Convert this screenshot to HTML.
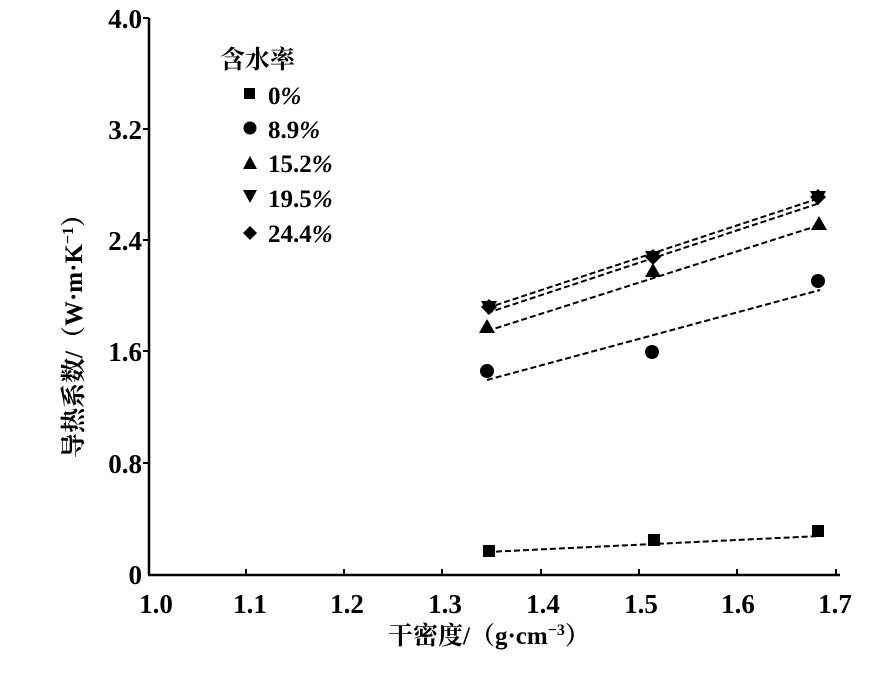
<!DOCTYPE html>
<html><head><meta charset="utf-8"><style>body{margin:0;background:#fff}</style></head>
<body>
<svg width="882" height="668" xmlns="http://www.w3.org/2000/svg" style="font-family:'Liberation Serif','Noto Serif CJK SC',serif">
<g stroke="#000" stroke-width="2.5" fill="none">
<line x1="149" y1="18" x2="149" y2="575"/>
<line x1="148" y1="575" x2="840" y2="575"/>
</g>
<g stroke="#000" stroke-width="2">
<line x1="143" y1="18" x2="149" y2="18"/>
<line x1="143" y1="129" x2="149" y2="129"/>
<line x1="143" y1="240" x2="149" y2="240"/>
<line x1="143" y1="351" x2="149" y2="351"/>
<line x1="143" y1="463" x2="149" y2="463"/>
<line x1="246" y1="569" x2="246" y2="575"/>
<line x1="344" y1="569" x2="344" y2="575"/>
<line x1="442" y1="569" x2="442" y2="575"/>
<line x1="541" y1="569" x2="541" y2="575"/>
<line x1="639" y1="569" x2="639" y2="575"/>
<line x1="737" y1="569" x2="737" y2="575"/>
<line x1="836" y1="569" x2="836" y2="575"/>
</g>
<g font-size="27" font-weight="bold" text-anchor="end">
<text x="142" y="28">4.0</text>
<text x="142" y="139">3.2</text>
<text x="142" y="250">2.4</text>
<text x="142" y="361">1.6</text>
<text x="142" y="473">0.8</text>
<text x="142" y="584">0</text>
</g>
<g font-size="27" font-weight="bold" text-anchor="middle">
<text x="156" y="613">1.0</text>
<text x="250" y="613">1.1</text>
<text x="347" y="613">1.2</text>
<text x="445" y="613">1.3</text>
<text x="543" y="613">1.4</text>
<text x="641" y="613">1.5</text>
<text x="738" y="613">1.6</text>
<text x="835" y="613">1.7</text>
</g>
<text x="388" y="644" font-size="25" font-weight="bold">干密度/（g·cm<tspan font-size="16" dy="-9">−3</tspan><tspan dy="9">）</tspan></text>
<text transform="translate(82,458) rotate(-90)" font-size="25" font-weight="bold">导热系数/（W·m·K<tspan font-size="16" dy="-9">−1</tspan><tspan dy="9">）</tspan></text>
<g font-size="25" font-weight="bold">
<text x="220" y="68">含水率</text>
<text x="268" y="104">0<tspan font-style="italic">%</tspan></text>
<text x="268" y="138">8.9<tspan font-style="italic">%</tspan></text>
<text x="268" y="172">15.2<tspan font-style="italic">%</tspan></text>
<text x="268" y="207">19.5<tspan font-style="italic">%</tspan></text>
<text x="268" y="242">24.4<tspan font-style="italic">%</tspan></text>
</g>
<g fill="#000">
<rect x="244" y="88" width="11" height="11"/>
<circle cx="250" cy="128" r="6.5"/>
<polygon points="243,169 257,169 250,156"/>
<polygon points="243,190 257,190 250,203"/>
<polygon points="250,226 257,233 250,240 243,233"/>
</g>
<g stroke="#000" stroke-width="2" stroke-dasharray="6,3" fill="none">
<line x1="487" y1="552" x2="820" y2="536"/>
<line x1="487" y1="380" x2="820" y2="290"/>
<line x1="487" y1="331" x2="820" y2="225"/>
<line x1="487" y1="313" x2="820" y2="203"/>
<line x1="487" y1="308" x2="820" y2="198"/>
</g>
<g fill="#000">
<rect x="483" y="545" width="12" height="12"/>
<rect x="648" y="534" width="12" height="12"/>
<rect x="812" y="525" width="12" height="12"/>
<circle cx="487" cy="371" r="7"/>
<circle cx="652" cy="352" r="7"/>
<circle cx="818" cy="281" r="7"/>
<polygon points="479,333 495,333 487,319"/>
<polygon points="645,277 661,277 653,263"/>
<polygon points="811,230 827,230 819,216"/>
<polygon points="481,301 497,301 489,315"/>
<polygon points="645,251 661,251 653,265"/>
<polygon points="810,191 826,191 818,205"/>
<polygon points="489,299 497,307 489,315 481,307"/>
<polygon points="653,249 661,257 653,265 645,257"/>
<polygon points="818,189 826,197 818,205 810,197"/>
</g>
</svg>
</body></html>
